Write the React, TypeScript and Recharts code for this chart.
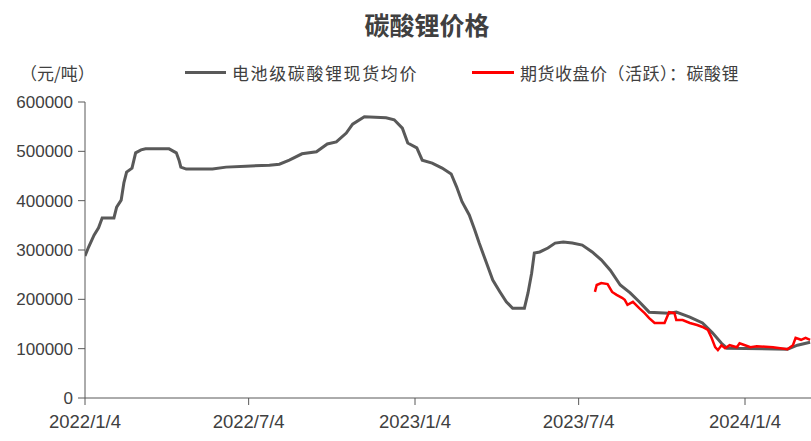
import React from 'react';
import { LineChart, Line, XAxis, YAxis } from 'recharts';

// 电池级碳酸锂现货均价
const spotDates = [
  '2022-01-04', '2022-01-08', '2022-01-14', '2022-01-19', '2022-01-23', '2022-02-05', '2022-02-08',
  '2022-02-13', '2022-02-16', '2022-02-19', '2022-02-25', '2022-03-01', '2022-03-07', '2022-03-12',
  '2022-04-07', '2022-04-15', '2022-04-18', '2022-04-20', '2022-04-26', '2022-05-25', '2022-06-09',
  '2022-07-01', '2022-07-27', '2022-08-07', '2022-08-18', '2022-09-01', '2022-09-17', '2022-09-29',
  '2022-10-09', '2022-10-20', '2022-10-27', '2022-11-09', '2022-12-03', '2022-12-12', '2022-12-21',
  '2022-12-27', '2023-01-06', '2023-01-12', '2023-01-23', '2023-02-03', '2023-02-13', '2023-02-19',
  '2023-02-25', '2023-03-05', '2023-03-11', '2023-03-16', '2023-03-24', '2023-03-31', '2023-04-08',
  '2023-04-15', '2023-04-22', '2023-05-05', '2023-05-09', '2023-05-13', '2023-05-16', '2023-05-22',
  '2023-05-31', '2023-06-08', '2023-06-17', '2023-06-27', '2023-07-08', '2023-07-19', '2023-07-29',
  '2023-08-08', '2023-08-19', '2023-08-30', '2023-09-09', '2023-09-20', '2023-10-12', '2023-10-20',
  '2023-11-04', '2023-11-18', '2023-11-29', '2023-12-09', '2023-12-15', '2024-02-20', '2024-03-02',
  '2024-03-16',
];
const spotValues = [
  288000, 306000, 330000, 345000, 365000, 365000, 387000,
  401000, 436000, 458000, 466000, 497000, 503000, 505000,
  505000, 497000, 482000, 468000, 464000, 464000, 468000,
  470000, 472000, 474000, 482000, 495000, 499000, 515000,
  519000, 537000, 555000, 570000, 568000, 564000, 547000,
  517000, 507000, 482000, 476000, 466000, 454000, 428000,
  398000, 371000, 341000, 314000, 274000, 239000, 215000,
  195000, 182000, 182000, 213000, 253000, 294000, 296000,
  304000, 314000, 316000, 314000, 310000, 296000, 280000,
  259000, 229000, 213000, 195000, 174000, 172000, 174000,
  164000, 152000, 132000, 111000, 101000, 99000, 107000,
  113000,
];

// 期货收盘价(活跃)：碳酸锂
const futDates = [
  '2023-07-22', '2023-07-24', '2023-07-29', '2023-08-05', '2023-08-10', '2023-08-15', '2023-08-21',
  '2023-08-24', '2023-08-27', '2023-09-02', '2023-09-09', '2023-09-15', '2023-09-20', '2023-09-26',
  '2023-10-07', '2023-10-12', '2023-10-18', '2023-10-20', '2023-10-27', '2023-11-04', '2023-11-12',
  '2023-11-18', '2023-11-24', '2023-11-28', '2023-12-02', '2023-12-05', '2023-12-09', '2023-12-13',
  '2023-12-18', '2023-12-26', '2023-12-29', '2024-01-04', '2024-01-10', '2024-01-17', '2024-02-04',
  '2024-02-20', '2024-02-26', '2024-02-29', '2024-03-06', '2024-03-11', '2024-03-16',
];
const futValues = [
  215000, 229000, 233000, 231000, 215000, 209000, 203000,
  199000, 189000, 195000, 182000, 172000, 162000, 152000,
  152000, 174000, 172000, 158000, 158000, 152000, 148000,
  144000, 138000, 122000, 103000, 97000, 107000, 101000,
  107000, 103000, 111000, 107000, 103000, 105000, 103000,
  99000, 107000, 122000, 118000, 122000, 118000,
];

const tickDates = ['2022-01-04', '2022-07-04', '2023-01-04', '2023-07-04', '2024-01-04'];
const tickLabels = ['2022/1/4', '2022/7/4', '2023/1/4', '2023/7/4', '2024/1/4'];
const yTicks = [0, 100000, 200000, 300000, 400000, 500000, 600000];

const START = Date.parse('2022-01-04');
const toDay = (d: string) => Math.round((Date.parse(d) - START) / 86400000);

const rows: Record<number, { day: number; spot?: number; fut?: number }> = {};
spotDates.forEach((d, i) => {
  const k = toDay(d);
  rows[k] = { ...(rows[k] || { day: k }), spot: spotValues[i] };
});
futDates.forEach((d, i) => {
  const k = toDay(d);
  rows[k] = { ...(rows[k] || { day: k }), fut: futValues[i] };
});
const data = Object.values(rows).sort((a, b) => a.day - b.day);
const xTicks = tickDates.map(toDay);

const FONT = '"Liberation Sans", "Noto Sans CJK SC", sans-serif';
const CJK = '"Noto Sans CJK SC", sans-serif';
const TEXT = '#404040';

export default function App() {
  return (
    <div style={{ position: 'absolute', left: 0, top: 0, width: 811, height: 441, background: '#fff', fontFamily: FONT }}>
      <div style={{ position: 'absolute', left: 0, width: 854, top: 6, textAlign: 'center', fontFamily: CJK, fontWeight: 700, fontSize: 25, color: TEXT }}>
        碳酸锂价格
      </div>
      <div style={{ position: 'absolute', left: 20, top: 60, fontFamily: CJK, fontSize: 17, color: TEXT }}>
        （元/吨）
      </div>
      <div style={{ position: 'absolute', left: 185, top: 60, display: 'flex', alignItems: 'center', fontFamily: CJK, fontSize: 17, color: TEXT, letterSpacing: 1.6 }}>
        <span style={{ display: 'inline-block', width: 41, height: 3, background: '#595959', marginRight: 6 }} />
        电池级碳酸锂现货均价
      </div>
      <div style={{ position: 'absolute', left: 472, top: 60, display: 'flex', alignItems: 'center', fontFamily: CJK, fontSize: 17, color: TEXT, letterSpacing: 0.5 }}>
        <span style={{ display: 'inline-block', width: 42, height: 3, background: '#ff0000', marginRight: 6 }} />
        期货收盘价（活跃）：碳酸锂
      </div>
      <LineChart width={811} height={441} data={data} margin={{ top: 102, right: 0, bottom: 0, left: 0 }}>
        <XAxis
          dataKey="day"
          type="number"
          domain={[0, 803]}
          ticks={xTicks}
          tickFormatter={(v: number) => tickLabels[xTicks.indexOf(v)] ?? ''}
          height={43}
          tickSize={7}
          tickMargin={10}
          stroke="#595959"
          tick={{ fill: TEXT, fontSize: 18.5, fontFamily: FONT }}
          allowDataOverflow
        />
        <YAxis
          domain={[0, 600000]}
          ticks={yTicks}
          width={85}
          tickSize={7}
          tickMargin={5}
          stroke="#595959"
          tick={{ fill: TEXT, fontSize: 17, fontFamily: FONT }}
        />
        <Line
          dataKey="spot"
          stroke="#595959"
          strokeWidth={3}
          dot={false}
          connectNulls
          isAnimationActive={false}
        />
        <Line
          dataKey="fut"
          stroke="#ff0000"
          strokeWidth={2.5}
          dot={false}
          connectNulls
          isAnimationActive={false}
        />
      </LineChart>
    </div>
  );
}
